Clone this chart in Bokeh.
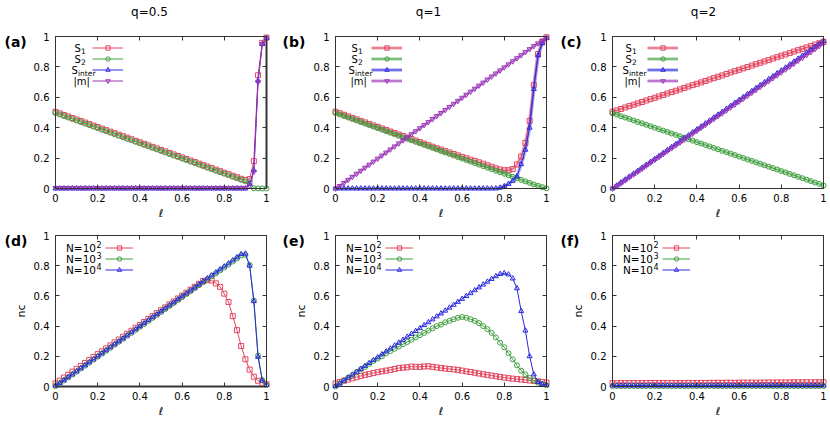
import math
from bokeh.plotting import figure
from bokeh.models import Range1d, FixedTicker, LinearAxis, Legend, LegendItem, Label
from bokeh.layouts import column, row
from bokeh.embed import file_html
from bokeh.resources import INLINE

# ---------------- data ----------------
ELL = [0.00, 0.02, 0.04, 0.06, 0.08, 0.10, 0.12, 0.14, 0.16, 0.18,
       0.20, 0.22, 0.24, 0.26, 0.28, 0.30, 0.32, 0.34, 0.36, 0.38,
       0.40, 0.42, 0.44, 0.46, 0.48, 0.50, 0.52, 0.54, 0.56, 0.58,
       0.60, 0.62, 0.64, 0.66, 0.68, 0.70, 0.72, 0.74, 0.76, 0.78,
       0.80, 0.82, 0.84, 0.86, 0.88, 0.90, 0.92, 0.94, 0.96, 0.98, 1.00]

TICKS = [0, 0.2, 0.4, 0.6, 0.8, 1]
TICK_LABELS = ["0", "0.2", "0.4", "0.6", "0.8", "1"]

Q_TITLES = ["q=0.5", "q=1", "q=2"]
TAGS = ["(a)", "(b)", "(c)", "(d)", "(e)", "(f)"]
X_LABEL = "\u2113"
Y_LABEL_BOTTOM = "nc"
TOP_LEGEND = [("S", "1"), ("S", "2"), ("S", "inter"), ("|m|", "")]
BOTTOM_LEGEND = [("N=10", "2"), ("N=10", "3"), ("N=10", "4")]

# (a) q=0.5
A_S1 = [0.504, 0.494, 0.484, 0.474, 0.464, 0.454, 0.444, 0.434, 0.424, 0.414,
        0.404, 0.394, 0.384, 0.374, 0.364, 0.354, 0.344, 0.334, 0.324, 0.314,
        0.304, 0.294, 0.284, 0.274, 0.264, 0.254, 0.244, 0.234, 0.224, 0.214,
        0.204, 0.194, 0.184, 0.174, 0.164, 0.154, 0.144, 0.134, 0.124, 0.114,
        0.104, 0.094, 0.084, 0.074, 0.064, 0.056, 0.062, 0.180, 0.745, 0.958, 0.993]
A_S2 = [0.497, 0.487, 0.477, 0.467, 0.457, 0.447, 0.437, 0.427, 0.417, 0.407,
        0.397, 0.387, 0.377, 0.367, 0.357, 0.347, 0.337, 0.327, 0.317, 0.307,
        0.297, 0.287, 0.277, 0.267, 0.257, 0.247, 0.237, 0.227, 0.217, 0.207,
        0.197, 0.187, 0.177, 0.167, 0.157, 0.147, 0.137, 0.127, 0.117, 0.107,
        0.097, 0.087, 0.077, 0.067, 0.057, 0.047, 0.038, 0.002, 0.001, 0.000, 0.000]
A_SI = [0.0, 0.0, 0.0, 0.0, 0.0, 0.0, 0.0, 0.0, 0.0, 0.0,
        0.0, 0.0, 0.0, 0.0, 0.0, 0.0, 0.0, 0.0, 0.0, 0.0,
        0.0, 0.0, 0.0, 0.0, 0.0, 0.0, 0.0, 0.0, 0.0, 0.0,
        0.0, 0.0, 0.0, 0.0, 0.0, 0.0, 0.0, 0.0, 0.0, 0.0,
        0.0, 0.0, 0.0, 0.0, 0.0, 0.0, 0.030, 0.120, 0.710, 0.950, 0.990]
A_M = [0.004, 0.004, 0.004, 0.004, 0.004, 0.004, 0.004, 0.004, 0.004, 0.004,
       0.004, 0.004, 0.004, 0.004, 0.004, 0.004, 0.004, 0.004, 0.004, 0.004,
       0.004, 0.004, 0.004, 0.004, 0.004, 0.004, 0.004, 0.004, 0.004, 0.004,
       0.004, 0.004, 0.004, 0.004, 0.004, 0.004, 0.004, 0.004, 0.004, 0.004,
       0.004, 0.004, 0.004, 0.004, 0.004, 0.004, 0.020, 0.110, 0.700, 0.950, 0.985]
A_EDGE_X = [1.0, 1.0]
A_EDGE_Y = [0.0, 1.0]

# (b) q=1
B_S1 = [0.505, 0.495, 0.485, 0.475, 0.465, 0.455, 0.445, 0.435, 0.425, 0.415,
        0.405, 0.395, 0.385, 0.375, 0.365, 0.355, 0.345, 0.335, 0.325, 0.315,
        0.305, 0.295, 0.285, 0.275, 0.265, 0.256, 0.246, 0.237, 0.227, 0.218,
        0.208, 0.199, 0.190, 0.181, 0.172, 0.163, 0.153, 0.143, 0.133, 0.125,
        0.120, 0.120, 0.128, 0.158, 0.210, 0.300, 0.445, 0.680, 0.885, 0.965, 0.995]
B_S2 = [0.497, 0.487, 0.477, 0.467, 0.457, 0.447, 0.437, 0.427, 0.417, 0.407,
        0.397, 0.387, 0.377, 0.367, 0.357, 0.347, 0.337, 0.327, 0.317, 0.307,
        0.297, 0.287, 0.277, 0.267, 0.257, 0.247, 0.237, 0.227, 0.217, 0.207,
        0.197, 0.187, 0.177, 0.167, 0.157, 0.147, 0.137, 0.127, 0.117, 0.107,
        0.097, 0.087, 0.077, 0.067, 0.057, 0.047, 0.037, 0.027, 0.018, 0.009, 0.001]
B_SI = [0.0, 0.0, 0.0, 0.0, 0.0, 0.0, 0.0, 0.0, 0.0, 0.0,
        0.0, 0.0, 0.0, 0.0, 0.0, 0.0, 0.0, 0.0, 0.0, 0.0,
        0.0, 0.0, 0.0, 0.0, 0.0, 0.0, 0.0, 0.0, 0.0, 0.0,
        0.0, 0.0, 0.0, 0.0, 0.0, 0.0, 0.0, 0.0, 0.0, 0.005,
        0.015, 0.030, 0.050, 0.080, 0.160, 0.255, 0.400, 0.655, 0.875, 0.955, 0.990]
B_M = [0.000, 0.017, 0.037, 0.057, 0.077, 0.097, 0.117, 0.137, 0.157, 0.177,
       0.197, 0.217, 0.237, 0.257, 0.277, 0.297, 0.317, 0.337, 0.357, 0.377,
       0.397, 0.417, 0.437, 0.457, 0.477, 0.497, 0.517, 0.537, 0.557, 0.577,
       0.597, 0.617, 0.637, 0.657, 0.677, 0.697, 0.717, 0.737, 0.757, 0.777,
       0.797, 0.817, 0.837, 0.857, 0.877, 0.897, 0.917, 0.937, 0.955, 0.973, 0.990]

# (c) q=2
C_S1 = [0.505, 0.514, 0.523, 0.533, 0.542, 0.551, 0.560, 0.569, 0.579, 0.588,
        0.597, 0.606, 0.615, 0.625, 0.634, 0.643, 0.652, 0.661, 0.671, 0.680,
        0.689, 0.698, 0.707, 0.717, 0.726, 0.735, 0.744, 0.753, 0.763, 0.772,
        0.781, 0.790, 0.799, 0.809, 0.818, 0.827, 0.836, 0.845, 0.855, 0.864,
        0.873, 0.882, 0.891, 0.901, 0.910, 0.919, 0.928, 0.937, 0.947, 0.956, 0.965]
C_S2 = [0.495, 0.486, 0.476, 0.467, 0.457, 0.448, 0.438, 0.429, 0.419, 0.410,
        0.400, 0.391, 0.381, 0.372, 0.362, 0.353, 0.343, 0.334, 0.324, 0.315,
        0.305, 0.296, 0.286, 0.277, 0.267, 0.258, 0.248, 0.239, 0.229, 0.220,
        0.210, 0.201, 0.191, 0.182, 0.172, 0.163, 0.153, 0.144, 0.134, 0.125,
        0.115, 0.106, 0.096, 0.087, 0.077, 0.068, 0.058, 0.049, 0.039, 0.030, 0.020]
C_SI = [0.000, 0.019, 0.039, 0.058, 0.078, 0.097, 0.116, 0.136, 0.155, 0.175,
        0.194, 0.213, 0.233, 0.252, 0.272, 0.291, 0.310, 0.330, 0.349, 0.369,
        0.388, 0.407, 0.427, 0.446, 0.466, 0.485, 0.504, 0.524, 0.543, 0.563,
        0.582, 0.601, 0.621, 0.640, 0.660, 0.679, 0.698, 0.718, 0.737, 0.757,
        0.776, 0.795, 0.815, 0.834, 0.854, 0.873, 0.892, 0.912, 0.931, 0.951, 0.970]
C_M = [0.000, 0.015, 0.034, 0.054, 0.073, 0.092, 0.111, 0.130, 0.150, 0.169,
       0.188, 0.207, 0.226, 0.246, 0.265, 0.284, 0.303, 0.322, 0.342, 0.361,
       0.380, 0.399, 0.418, 0.438, 0.457, 0.476, 0.495, 0.514, 0.534, 0.553,
       0.572, 0.591, 0.610, 0.630, 0.649, 0.668, 0.687, 0.706, 0.726, 0.745,
       0.764, 0.783, 0.802, 0.822, 0.841, 0.860, 0.879, 0.898, 0.918, 0.937, 0.956]

# (d) q=0.5, nc
D_N2 = [0.020, 0.039, 0.059, 0.078, 0.098, 0.117, 0.136, 0.156, 0.175, 0.195,
        0.214, 0.233, 0.253, 0.272, 0.292, 0.311, 0.330, 0.350, 0.369, 0.389,
        0.408, 0.427, 0.447, 0.466, 0.486, 0.505, 0.524, 0.544, 0.563, 0.583,
        0.602, 0.621, 0.641, 0.660, 0.680, 0.699, 0.704, 0.702, 0.683, 0.660,
        0.615, 0.560, 0.466, 0.373, 0.268, 0.180, 0.112, 0.065, 0.038, 0.024, 0.015]
D_N3 = [0.003, 0.021, 0.040, 0.060, 0.079, 0.099, 0.119, 0.138, 0.158, 0.178,
        0.198, 0.217, 0.237, 0.257, 0.276, 0.296, 0.316, 0.336, 0.355, 0.375,
        0.395, 0.414, 0.434, 0.454, 0.474, 0.493, 0.513, 0.533, 0.552, 0.572,
        0.592, 0.611, 0.631, 0.651, 0.671, 0.690, 0.710, 0.730, 0.749, 0.769,
        0.789, 0.808, 0.828, 0.848, 0.868, 0.872, 0.805, 0.570, 0.205, 0.042, 0.010]
D_N4 = [0.005, 0.022, 0.041, 0.061, 0.080, 0.100, 0.120, 0.140, 0.160, 0.179,
        0.199, 0.219, 0.239, 0.259, 0.279, 0.298, 0.318, 0.338, 0.358, 0.378,
        0.398, 0.418, 0.438, 0.458, 0.477, 0.497, 0.517, 0.537, 0.557, 0.577,
        0.597, 0.616, 0.636, 0.656, 0.676, 0.696, 0.716, 0.736, 0.755, 0.775,
        0.795, 0.815, 0.835, 0.855, 0.876, 0.880, 0.800, 0.565, 0.196, 0.040, 0.010]
D_BASE_X = [0.0, 1.0]
D_BASE_Y = [0.0, 0.0]

# (e) q=1, nc
E_N2 = [0.020, 0.030, 0.038, 0.046, 0.054, 0.062, 0.070, 0.077, 0.083, 0.089,
        0.095, 0.100, 0.105, 0.110, 0.116, 0.122, 0.125, 0.127, 0.132, 0.130,
        0.130, 0.133, 0.134, 0.130, 0.126, 0.122, 0.119, 0.116, 0.113, 0.110,
        0.105, 0.100, 0.096, 0.091, 0.086, 0.081, 0.077, 0.072, 0.068, 0.063,
        0.059, 0.055, 0.052, 0.049, 0.046, 0.043, 0.040, 0.037, 0.034, 0.030, 0.026]
E_N3 = [0.000, 0.020, 0.040, 0.060, 0.075, 0.095, 0.115, 0.130, 0.150, 0.170,
        0.185, 0.200, 0.220, 0.235, 0.250, 0.265, 0.280, 0.295, 0.310, 0.325,
        0.340, 0.355, 0.370, 0.385, 0.400, 0.410, 0.425, 0.435, 0.445, 0.455,
        0.460, 0.455, 0.445, 0.435, 0.420, 0.400, 0.380, 0.355, 0.325, 0.290,
        0.260, 0.220, 0.180, 0.140, 0.105, 0.080, 0.057, 0.040, 0.025, 0.015, 0.008]
E_N4 = [0.003, 0.020, 0.039, 0.058, 0.078, 0.097, 0.116, 0.136, 0.155, 0.174,
        0.193, 0.213, 0.232, 0.251, 0.271, 0.290, 0.309, 0.329, 0.348, 0.367,
        0.386, 0.406, 0.425, 0.444, 0.464, 0.483, 0.502, 0.522, 0.541, 0.560,
        0.580, 0.599, 0.618, 0.637, 0.656, 0.675, 0.694, 0.712, 0.730, 0.745,
        0.750, 0.742, 0.715, 0.650, 0.500, 0.370, 0.200, 0.080, 0.030, 0.015, 0.010]

# (f) q=2, nc
F_N2 = [0.022, 0.022, 0.023, 0.022, 0.022, 0.023, 0.022, 0.023, 0.022, 0.023,
        0.023, 0.022, 0.023, 0.023, 0.023, 0.022, 0.023, 0.023, 0.024, 0.023,
        0.023, 0.024, 0.023, 0.024, 0.024, 0.025, 0.024, 0.025, 0.025, 0.024,
        0.025, 0.026, 0.025, 0.026, 0.025, 0.026, 0.026, 0.027, 0.026, 0.027,
        0.026, 0.027, 0.027, 0.028, 0.027, 0.028, 0.028, 0.027, 0.028, 0.028, 0.028]
F_N3 = [0.003, 0.003, 0.003, 0.003, 0.003, 0.003, 0.003, 0.003, 0.003, 0.003,
        0.003, 0.003, 0.003, 0.003, 0.003, 0.003, 0.003, 0.003, 0.003, 0.003,
        0.003, 0.003, 0.003, 0.003, 0.003, 0.003, 0.003, 0.003, 0.003, 0.003,
        0.003, 0.003, 0.003, 0.003, 0.003, 0.003, 0.003, 0.003, 0.003, 0.003,
        0.003, 0.003, 0.003, 0.003, 0.003, 0.003, 0.003, 0.003, 0.003, 0.003, 0.003]
F_N4 = [0.006, 0.006, 0.006, 0.006, 0.006, 0.006, 0.006, 0.006, 0.006, 0.006,
        0.006, 0.006, 0.006, 0.006, 0.006, 0.006, 0.006, 0.006, 0.006, 0.006,
        0.006, 0.006, 0.006, 0.006, 0.006, 0.006, 0.006, 0.006, 0.006, 0.006,
        0.006, 0.006, 0.006, 0.006, 0.006, 0.006, 0.006, 0.006, 0.006, 0.006,
        0.006, 0.006, 0.006, 0.006, 0.006, 0.006, 0.006, 0.006, 0.006, 0.006, 0.006]

# ---------------- style ----------------
FONT = "DejaVu Sans"
RED = "#e2465f"
GREEN = "#3f9f3f"
BLUE = "#2a2ae0"
PURPLE = "#9a36b8"
GRAY = "#9a9a9a"
FRAME = "#333333"

# pixel layout of each panel: space left of / right of the box, box width;
# space above / below the box, box height
COLS = [dict(bl=55, br=9, fw=211), dict(bl=60, br=6, fw=211), dict(bl=60, br=5, fw=211)]
ROWS = [dict(bt=36, bb=32, fh=152), dict(bt=15, bb=36, fh=151)]
TAG_X = [-51, -53, -52]
TITLE_CX = [94, 93, 91]
LEG_LINE_X_TOP = [37, 36, 35]
LEG_TEXT_X_TOP = [19, 16, 13]


def base_axis(ax):
    ax.ticker = FixedTicker(ticks=TICKS)
    ax.bounds = (0, 1)
    ax.minor_tick_line_color = None
    ax.major_tick_out = 0
    ax.major_label_text_font = FONT


def frame_axis(**kw):
    """Axis drawing one side of the box, with inward ticks and no labels."""
    ax = LinearAxis(**kw)
    base_axis(ax)
    ax.major_tick_in = 4
    ax.major_tick_line_color = FRAME
    ax.axis_line_color = FRAME
    ax.major_label_text_color = None
    ax.major_label_text_font_size = "0px"
    ax.major_label_standoff = 0
    return ax


def label_axis(standoff, **kw):
    """Axis carrying only tick labels, placed so that the labels sit beside the box."""
    ax = LinearAxis(**kw)
    base_axis(ax)
    ax.major_tick_in = 0
    ax.major_tick_line_color = None
    ax.axis_line_color = None
    ax.major_label_text_color = "black"
    ax.major_label_text_font_size = "10px"
    ax.major_label_standoff = standoff
    ax.major_label_overrides = {t: s for t, s in zip(TICKS, TICK_LABELS)}
    return ax


def add_text(p, fw, fh, xpx, ypx, s, size="10px", bold=False, align="left", angle=0.0):
    p.add_layout(Label(x=xpx / fw, y=1 - ypx / fh, text=s, text_font=FONT,
                       text_font_size=size, text_font_style="bold" if bold else "normal",
                       text_align=align, text_baseline="middle", text_color="black",
                       angle=angle))


def make_panel(ci, ri, series, legend_spec, extra=None, halo=False):
    c, r = COLS[ci], ROWS[ri]
    fw, fh, bl, br = c["fw"], r["fh"], c["bl"], c["br"]
    bt, bb = r["bt"], r["bb"]
    p = figure(width=bl + fw + br, height=bt + fh + bb,
               x_range=Range1d(-bl / fw, 1 + br / fw),
               y_range=Range1d(-bb / fh, 1 + bt / fh),
               output_backend="svg", toolbar_location=None,
               x_axis_location=None, y_axis_location=None,
               min_border_left=0, min_border_right=0,
               min_border_top=0, min_border_bottom=0)
    p.grid.visible = False
    p.outline_line_color = None
    p.background_fill_color = "white"
    p.border_fill_color = "white"

    # the four sides of the box, with inward ticks
    p.add_layout(frame_axis(fixed_location=0), "below")
    p.add_layout(frame_axis(fixed_location=1), "above")
    p.add_layout(frame_axis(fixed_location=0), "left")
    p.add_layout(frame_axis(fixed_location=1), "right")
    # tick labels: left ones end 6px left of the box, bottom ones start 5px below it
    p.add_layout(label_axis(-16, fixed_location=-22 / fw), "left")
    p.add_layout(label_axis(-12, fixed_location=-17 / fh), "below")

    if extra is not None:
        p.line(extra[0], extra[1], line_color=GRAY, line_width=3)

    items = []
    for (ys, color, marker), lab in zip(series, legend_spec):
        rs = []
        if halo:
            rs.append(p.line(ELL, ys, line_color=color, line_width=3.5, line_alpha=0.35))
        rs.append(p.line(ELL, ys, line_color=color, line_width=1))
        rs.append(p.scatter(ELL, ys, marker=marker, size=5, line_color=color,
                            fill_color=None, line_width=1))
        items.append(LegendItem(label=lab[0] + lab[1], renderers=rs))

    if ri == 0:
        gh, lx, rows0, gw = 11, LEG_LINE_X_TOP[ci], 6, 31
    else:
        gh, lx, rows0, gw = 11, 50, 7, 28
    n = len(items)
    vy = bb + fh - rows0 - gh * n
    leg = Legend(items=items, location=(bl + lx, vy), orientation="vertical",
                 glyph_width=gw, glyph_height=gh, label_width=0, label_height=gh,
                 label_standoff=0, label_text_font_size="1px", label_text_color=None,
                 padding=0, margin=0, spacing=0, background_fill_alpha=0,
                 border_line_color=None)
    p.add_layout(leg)

    for i, (main, sub) in enumerate(legend_spec):
        yc = rows0 + gh * i + gh / 2
        if ri == 0:
            lx0 = LEG_TEXT_X_TOP[ci] + [0, 0, -3, -1][i]
            add_text(p, fw, fh, lx0, yc, main, size="10px")
            if sub:
                add_text(p, fw, fh, lx0 + 6.5, yc + 3, sub, size="7.5px")
        else:
            lx0 = 10.5
            add_text(p, fw, fh, lx0, yc, main, size="10.5px")
            add_text(p, fw, fh, lx0 + 30.5, yc - 3.5, sub, size="8px")

    add_text(p, fw, fh, TAG_X[ci], 5.5, TAGS[ci + 3 * ri], size="14px", bold=True)
    add_text(p, fw, fh, fw / 2, fh + 24.5, X_LABEL, size="11px", align="center")
    if ri == 0:
        add_text(p, fw, fh, TITLE_CX[ci], -25, Q_TITLES[ci], size="12px", align="center")
    else:
        add_text(p, fw, fh, -34, fh / 2, Y_LABEL_BOTTOM, size="11px", align="center",
                 angle=math.pi / 2)
    return p


pa = make_panel(0, 0, [(A_S1, RED, "square"), (A_S2, GREEN, "circle"),
                       (A_SI, BLUE, "triangle"), (A_M, PURPLE, "inverted_triangle")],
                TOP_LEGEND, extra=(A_EDGE_X, A_EDGE_Y))
pb = make_panel(1, 0, [(B_S1, RED, "square"), (B_S2, GREEN, "circle"),
                       (B_SI, BLUE, "triangle"), (B_M, PURPLE, "inverted_triangle")],
                TOP_LEGEND, halo=True)
pc = make_panel(2, 0, [(C_S1, RED, "square"), (C_S2, GREEN, "circle"),
                       (C_SI, BLUE, "triangle"), (C_M, PURPLE, "inverted_triangle")],
                TOP_LEGEND, halo=True)
pd = make_panel(0, 1, [(D_N2, RED, "square"), (D_N3, GREEN, "circle"), (D_N4, BLUE, "triangle")],
                BOTTOM_LEGEND, extra=(D_BASE_X, D_BASE_Y))
pe = make_panel(1, 1, [(E_N2, RED, "square"), (E_N3, GREEN, "circle"), (E_N4, BLUE, "triangle")],
                BOTTOM_LEGEND)
pf = make_panel(2, 1, [(F_N2, RED, "square"), (F_N3, GREEN, "circle"), (F_N4, BLUE, "triangle")],
                BOTTOM_LEGEND)

layout = column(row(pa, pb, pc, spacing=0), row(pd, pe, pf, spacing=0), spacing=0)
open("out.html", "w").write(file_html(layout, INLINE))
